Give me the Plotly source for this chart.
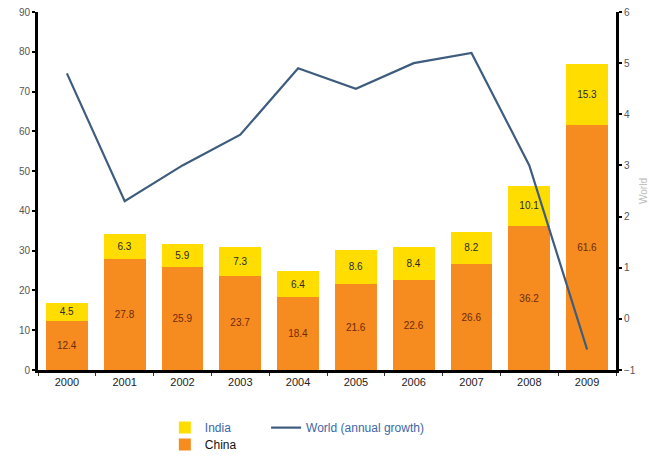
import plotly.graph_objects as go

# Annual values, 2000-2009
years = ["2000", "2001", "2002", "2003", "2004", "2005", "2006", "2007", "2008", "2009"]
china = [12.4, 27.8, 25.9, 23.7, 18.4, 21.6, 22.6, 26.6, 36.2, 61.6]
india = [4.5, 6.3, 5.9, 7.3, 6.4, 8.6, 8.4, 8.2, 10.1, 15.3]
world_growth = [4.8, 2.3, 3.0, 3.6, 4.9, 4.5, 5.0, 5.2, 3.0, -0.6]

left_ticks = [0, 10, 20, 30, 40, 50, 60, 70, 80, 90]
right_ticks = [-1, 0, 1, 2, 3, 4, 5, 6]

ORANGE = "#F68B1F"
YELLOW = "#FFDD00"
LINE = "#3E5C7E"
LEGEND_BLUE = "#3D68A6"
FONT = "Liberation Sans, Arial, sans-serif"

fig = go.Figure()

fig.add_trace(go.Bar(
    x=years, y=china, name="China",
    marker=dict(color=ORANGE, line=dict(width=0)),
    text=[f"{v:.1f}" for v in china],
    textposition="inside", insidetextanchor="middle",
    textfont=dict(size=10, color="#6E2A0E", family=FONT),
    legend="legend",
))
fig.add_trace(go.Bar(
    x=years, y=india, name="India",
    marker=dict(color=YELLOW, line=dict(width=0)),
    text=[f"{v:.1f}" for v in india],
    textposition="inside", insidetextanchor="middle",
    textfont=dict(size=10, color="#2A2A2A", family=FONT),
    legend="legend2",
))
fig.add_trace(go.Scatter(
    x=years, y=world_growth, name="World (annual growth)",
    mode="lines", line=dict(color=LINE, width=2.2),
    yaxis="y2", legend="legend3",
))

legend_common = dict(
    xref="container", yref="container", xanchor="left", yanchor="top",
    orientation="h", bgcolor="rgba(0,0,0,0)",
)

fig.update_layout(
    width=649, height=458,
    margin=dict(l=38, r=33, t=12, b=88, autoexpand=False),
    paper_bgcolor="white", plot_bgcolor="white",
    font=dict(family=FONT, size=10, color="#444444"),
    barmode="stack", bargap=0.28,
    xaxis=dict(
        type="category", showline=True, linecolor="black", linewidth=3,
        ticks="outside", tickson="boundaries", ticklen=3, tickwidth=1,
        tickcolor="#333333",
        tickfont=dict(size=11, color="#222222"), showgrid=False,
        zeroline=False,
    ),
    yaxis=dict(
        range=[0, 90], tickvals=left_ticks, showline=True, linecolor="black",
        linewidth=3, ticks="outside", ticklen=3, tickwidth=2,
        tickcolor="black", showgrid=False, zeroline=False,
        tickfont=dict(size=10, color="#555555"),
    ),
    yaxis2=dict(
        range=[-1, 6], tickvals=right_ticks, overlaying="y", side="right",
        showline=True, linecolor="black", linewidth=3, ticks="outside",
        ticklen=3, tickwidth=2, tickcolor="black", showgrid=False,
        zeroline=False, tickfont=dict(size=10, color="#555555"),
        title=dict(text="World", font=dict(size=10, color="#BBBBBB"),
                   standoff=10),
    ),
    legend=dict(x=0.254, y=0.061, font=dict(size=12, color="#111111"),
                **legend_common),
    legend2=dict(x=0.254, y=0.098, font=dict(size=12, color=LEGEND_BLUE),
                 **legend_common),
    legend3=dict(x=0.41, y=0.098, font=dict(size=12, color=LEGEND_BLUE),
                 **legend_common),
    showlegend=True,
)

fig.write_html("out.html")
